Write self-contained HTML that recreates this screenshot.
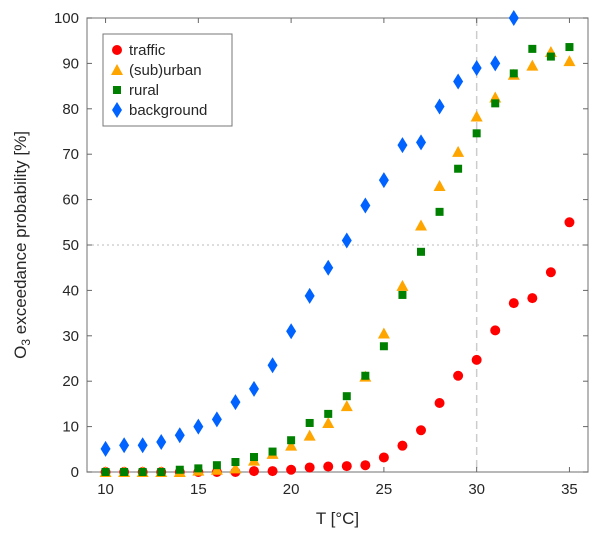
<!DOCTYPE html>
<html><head><meta charset="utf-8"><style>
body{margin:0;background:#fff;}
svg text{font-family:"Liberation Sans",sans-serif;fill:#262626;}
</style></head><body>
<svg id="chart" width="600" height="541" xmlns="http://www.w3.org/2000/svg"></svg>
<script>
const temps=[10,11,12,13,14,15,16,17,18,19,20,21,22,23,24,25,26,27,28,29,30,31,32,33,34,35];
const traffic=[0,0,0,0,0,0,0,0,0.2,0.2,0.5,1,1.2,1.3,1.5,3.2,5.8,9.2,15.2,21.2,24.7,31.2,37.2,38.3,44,55];
const urban=[0,0,0,0,0,0.3,0.5,0.8,2.5,4,5.8,8,10.8,14.5,21,30.5,41,54.3,63,70.5,78.3,82.5,87.5,89.5,92.5,90.5];
const rural=[0,0,0,0,0.5,0.8,1.5,2.2,3.3,4.5,7,10.8,12.8,16.7,21.2,27.7,39,48.5,57.3,66.8,74.6,81.2,87.8,93.2,91.5,93.6];
const bgTemps=[10,11,12,13,14,15,16,17,18,19,20,21,22,23,24,25,26,27,28,29,30,31,32];
const background=[5.1,5.9,5.9,6.6,8.1,10,11.6,15.4,18.3,23.5,31,38.8,45,51,58.7,64.3,72,72.6,80.5,86,89,90,100];
const xTicks=[10,15,20,25,30,35];
const yTicks=[0,10,20,30,40,50,60,70,80,90,100];

const NS="http://www.w3.org/2000/svg";
const svg=document.getElementById('chart');
const L=87,R=588,T=18,B=472,X0=9,X1=36,Y0=0,Y1=100;
const sx=v=>L+(v-X0)/(X1-X0)*(R-L);
const sy=v=>B-(v-Y0)/(Y1-Y0)*(B-T);
function mk(tag,attrs,parent){const e=document.createElementNS(NS,tag);for(const k in attrs)e.setAttribute(k,attrs[k]);(parent||svg).appendChild(e);return e;}

const ref=mk('g',{});


const h50=mk('line',{x1:L,x2:R,y1:sy(50),y2:sy(50),stroke:'#bbb','stroke-width':1,'stroke-dasharray':'2,3'},ref);


const v30=mk('line',{x1:sx(30),x2:sx(30),y1:T,y2:B,stroke:'#ccc','stroke-width':1.5,'stroke-dasharray':'8,5'},ref);



const frame=mk('rect',{x:L,y:T,width:R-L,height:B-T,fill:'none',stroke:'#888','stroke-width':1.2});



xTicks.forEach(t=>{
 mk('line',{x1:sx(t),x2:sx(t),y1:B,y2:B-5,stroke:'#666'});
 mk('line',{x1:sx(t),x2:sx(t),y1:T,y2:T+5,stroke:'#666'});
 const tx=mk('text',{x:sx(t),y:B+22,'font-size':15,'text-anchor':'middle'});
 tx.textContent=t;
 
 
});
yTicks.forEach(t=>{
 mk('line',{x1:L,x2:L+5,y1:sy(t),y2:sy(t),stroke:'#666'});
 mk('line',{x1:R,x2:R-5,y1:sy(t),y2:sy(t),stroke:'#666'});
 const tx=mk('text',{x:L-8,y:sy(t)+5,'font-size':15,'text-anchor':'end'});
 tx.textContent=t;
 
 
});
const xt=mk('text',{x:(L+R)/2,y:B+52,'font-size':17,'text-anchor':'middle'});
xt.textContent='T [°C]';


const yt=mk('text',{x:0,y:0,'font-size':17,'text-anchor':'middle',transform:`translate(26,${(T+B)/2}) rotate(-90)`});
yt.innerHTML='O<tspan font-size="12" dy="4">3</tspan><tspan dy="-4"> exceedance probability [%]</tspan>';



function marker(type,x,y,g){
 if(type==='circle')return mk('circle',{cx:x,cy:y,r:5,fill:'#ff0000'},g);
 if(type==='tri')return mk('polygon',{points:`${x},${y-6} ${x+6},${y+5} ${x-6},${y+5}`,fill:'#ffa500'},g);
 if(type==='sq')return mk('rect',{x:x-4,y:y-4,width:8,height:8,fill:'#008000'},g);
 return mk('polygon',{points:`${x},${y-8} ${x+5},${y} ${x},${y+8} ${x-5},${y}`,fill:'#0062ff'},g);
}
function series(name,type,xs,ys){
 const g=mk('g',{});
 
 
 xs.forEach((t,i)=>{
  const m=marker(type,sx(t),sy(ys[i]),g);
  
  
 });
}
series('traffic','circle',temps,traffic);
series('urban','tri',temps,urban);
series('rural','sq',temps,rural);
series('background','dia',bgTemps,background);

const lg=mk('g',{});


mk('rect',{x:103,y:34,width:129,height:92,fill:'#fff',stroke:'#777'},lg);
const items=[['traffic','circle'],['(sub)urban','tri'],['rural','sq'],['background','dia']];
items.forEach((it,i)=>{
 const y=50+i*20;
 marker(it[1],117,y,lg);
 const tx=mk('text',{x:129,y:y+5,'font-size':15},lg);
 tx.textContent=it[0];
 
 
});
</script>
</body></html>
